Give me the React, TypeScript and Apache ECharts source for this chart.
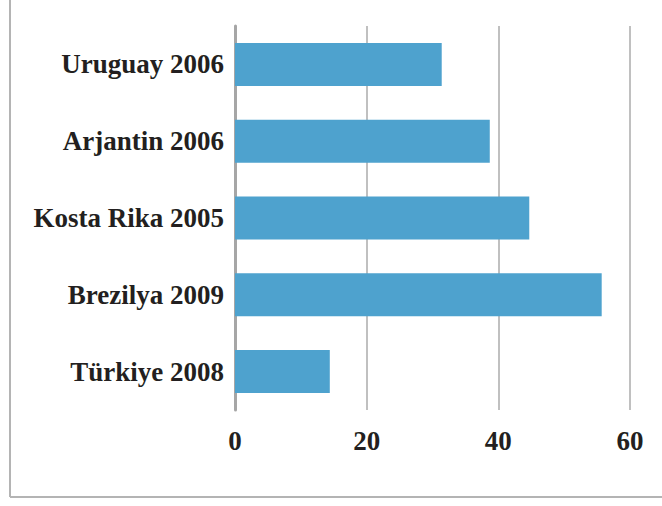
import React, { useEffect, useRef } from "react";
import * as echarts from "echarts";

const categories = ["Uruguay 2006", "Arjantin 2006", "Kosta Rika 2005", "Brezilya 2009", "Türkiye 2008"];
const values = [31.4, 38.7, 44.7, 55.7, 14.4];
const xTicks = [0, 20, 40, 60];

export default function App() {
  const ref = useRef<HTMLDivElement>(null);
  useEffect(() => {
    if (!ref.current) return;
    const chart = echarts.init(ref.current, undefined, { renderer: "svg" });
    const font = { fontFamily: "Liberation Serif", fontWeight: "bold" as const, fontSize: 27, color: "#231f20" };
    chart.setOption({
      animation: false,
      backgroundColor: "#ffffff",
      grid: { left: 235, top: 26, width: 395, height: 384 },
      xAxis: {
        type: "value",
        min: xTicks[0],
        max: xTicks[xTicks.length - 1],
        interval: 20,
        axisLine: { show: false },
        axisTick: { show: false },
        axisLabel: { ...font, margin: 17 },
        splitLine: { show: true, lineStyle: { color: "#c0c0c0", width: 2 } },
      },
      yAxis: {
        type: "category",
        data: categories,
        inverse: true,
        axisLine: { show: true, lineStyle: { color: "#a6a6a6", width: 3 } },
        axisTick: { show: false },
        axisLabel: { ...font, margin: 11, padding: [7, 0, 0, 0] },
      },
      series: [
        {
          type: "bar",
          data: values,
          barCategoryGap: "44%",
          itemStyle: { color: "#4ea2ce" },
        },
      ],
      graphic: [
        { type: "line", shape: { x1: 10, y1: 0, x2: 10, y2: 497 }, style: { stroke: "#b4b4b4", lineWidth: 2 } },
        { type: "line", shape: { x1: 10, y1: 497, x2: 662, y2: 497 }, style: { stroke: "#b4b4b4", lineWidth: 2 } },
      ],
    });
    return () => chart.dispose();
  }, []);
  return <div ref={ref} style={{ position: "fixed", left: 0, top: 0, width: 662, height: 506 }} />;
}
